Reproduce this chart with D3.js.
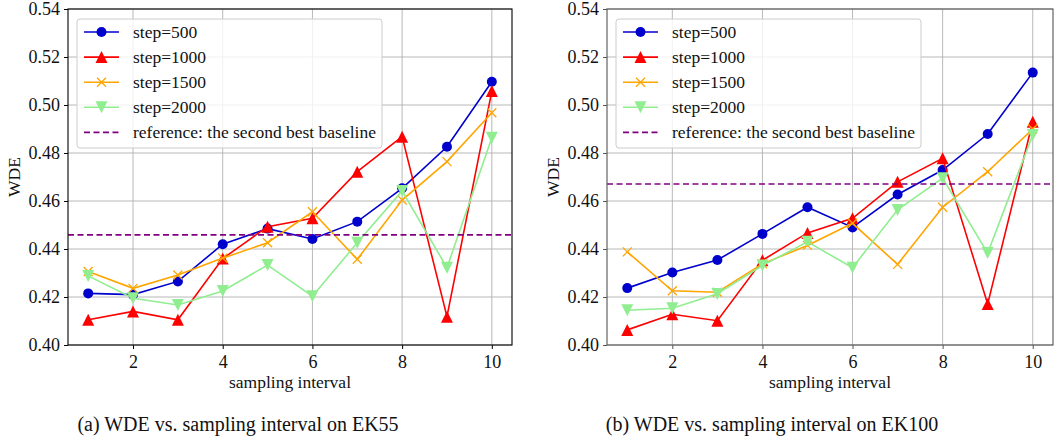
<!DOCTYPE html>
<html>
<head>
<meta charset="utf-8">
<script src="https://cdn.jsdelivr.net/npm/d3@7"></script>
<style>
  html, body { margin: 0; padding: 0; background: #fff; }
  svg { display: block; }
  svg text { font-family: 'Liberation Serif', 'Times New Roman', Times, 'DejaVu Serif', serif !important; }
</style>
</head>
<body>
<svg id="chart" width="1061" height="440"></svg>
<script>
// ---- data ----
const intervals = [1, 2, 3, 4, 5, 6, 7, 8, 9, 10];
const xTicks = [2, 4, 6, 8, 10];
const yTicks = [0.40, 0.42, 0.44, 0.46, 0.48, 0.50, 0.52, 0.54];
const seriesNames = ["step=500", "step=1000", "step=1500", "step=2000"];
const refLabel = "reference: the second best baseline";

const ek55_step500  = [0.4215, 0.421, 0.4265, 0.442, 0.4485, 0.4442, 0.4514, 0.4653, 0.4826, 0.5097];
const ek55_step1000 = [0.4105, 0.414, 0.4105, 0.436, 0.4493, 0.4528, 0.4722, 0.4868, 0.4118, 0.5058];
const ek55_step1500 = [0.4306, 0.4236, 0.4292, 0.4362, 0.4426, 0.4555, 0.4357, 0.4604, 0.4764, 0.4968];
const ek55_step2000 = [0.4288, 0.4195, 0.4167, 0.4225, 0.4333, 0.4203, 0.4426, 0.4642, 0.4322, 0.4864];
const ek55_ref = 0.4459;

const ek100_step500  = [0.4237, 0.4302, 0.4354, 0.4463, 0.4574, 0.4490, 0.4627, 0.4729, 0.4879, 0.5135];
const ek100_step1000 = [0.4063, 0.4128, 0.4101, 0.4353, 0.4467, 0.4528, 0.4680, 0.4778, 0.4171, 0.4930];
const ek100_step1500 = [0.4388, 0.4226, 0.4220, 0.4338, 0.4415, 0.4507, 0.4336, 0.4574, 0.4722, 0.4900];
const ek100_step2000 = [0.4145, 0.4153, 0.4213, 0.4331, 0.4430, 0.4322, 0.4563, 0.4695, 0.4383, 0.4875];
const ek100_ref = 0.4671;

const captions = ["(a) WDE vs. sampling interval on EK55", "(b) WDE vs. sampling interval on EK100"];
const xLabel = "sampling interval";
const yLabel = "WDE";

// ---- styles ----
const FONT = "'Liberation Serif', 'Times New Roman', Times, 'DejaVu Serif', serif";
const colors = ["#0000cd", "#ff0000", "#ffa500", "#90ee90"];
const markers = ["circle", "triUp", "x", "triDown"];
const refColor = "#800080";

const svg = d3.select("#chart");

function drawMarker(g, type, cx, cy, color) {
  if (type === "circle") {
    g.append("circle").attr("cx", cx).attr("cy", cy).attr("r", 5).attr("fill", color);
  } else if (type === "triUp") {
    const s = 6;
    g.append("path").attr("d", `M${cx},${cy - s} L${cx + s},${cy + s} L${cx - s},${cy + s} Z`).attr("fill", color);
  } else if (type === "triDown") {
    const s = 6;
    g.append("path").attr("d", `M${cx},${cy + s} L${cx + s},${cy - s} L${cx - s},${cy - s} Z`).attr("fill", color);
  } else if (type === "x") {
    const s = 4.5;
    g.append("path").attr("d", `M${cx - s},${cy - s} L${cx + s},${cy + s} M${cx - s},${cy + s} L${cx + s},${cy - s}`)
      .attr("stroke", color).attr("stroke-width", 1.3).attr("fill", "none");
  }
}

function panel(opts) {
  const { left, right, top, bottom, data, ref, caption, spineColor, captionX } = opts;
  const x = d3.scaleLinear().domain([0.55, 10.45]).range([left, right]);
  const y = d3.scaleLinear().domain([0.40, 0.54]).range([bottom, top]);
  const g = svg.append("g").attr("font-family", FONT);

  // grid
  g.append("g").selectAll("line.gx").data(xTicks).join("line")
    .attr("x1", d => x(d)).attr("x2", d => x(d)).attr("y1", top).attr("y2", bottom)
    .attr("stroke", "#b0b0b0").attr("stroke-width", 0.9);
  g.append("g").selectAll("line.gy").data(yTicks).join("line")
    .attr("x1", left).attr("x2", right).attr("y1", d => y(d)).attr("y2", d => y(d))
    .attr("stroke", "#b0b0b0").attr("stroke-width", 0.9);

  // series lines
  const line = d3.line().x((d, i) => x(intervals[i])).y(d => y(d));
  data.forEach((vals, si) => {
    const sg = g.append("g");
    sg.append("path").datum(vals).attr("d", line).attr("fill", "none")
      .attr("stroke", colors[si]).attr("stroke-width", 1.6);
    vals.forEach((v, i) => drawMarker(sg, markers[si], x(intervals[i]), y(v), colors[si]));
  });

  // reference line
  g.append("line").attr("x1", left).attr("x2", right).attr("y1", y(ref)).attr("y2", y(ref))
    .attr("stroke", refColor).attr("stroke-width", 1.6).attr("stroke-dasharray", "6,3.5");

  // axes
  const xAxis = d3.axisBottom(x).tickValues(xTicks).tickFormat(d3.format("d")).tickSize(4).tickPadding(4);
  const yAxis = d3.axisLeft(y).tickValues(yTicks).tickFormat(d3.format(".2f")).tickSize(4).tickPadding(4);
  const gx = g.append("g").attr("transform", `translate(0,${bottom})`).call(xAxis);
  const gy = g.append("g").attr("transform", `translate(${left},0)`).call(yAxis);
  [gx, gy].forEach(a => {
    a.attr("font-family", FONT).attr("font-size", 18);
    a.select(".domain").remove();
    a.selectAll("line").attr("stroke", spineColor).attr("stroke-width", 1);
    a.selectAll("text").attr("font-family", FONT).attr("font-size", 18).attr("fill", "#111");
  });
  gx.selectAll("text").attr("dy", "0.85em");

  // spines
  g.append("rect").attr("x", left).attr("y", top).attr("width", right - left).attr("height", bottom - top)
    .attr("fill", "none").attr("stroke", spineColor).attr("stroke-width", 1.1);

  // labels
  g.append("text").attr("x", (left + right) / 2).attr("y", bottom + 43).attr("text-anchor", "middle")
    .attr("font-family", FONT).attr("font-size", 17.5).attr("fill", "#111").text(xLabel);
  g.append("text").attr("transform", `translate(${left - 48},${(top + bottom) / 2}) rotate(-90)`)
    .attr("font-family", FONT).attr("text-anchor", "middle").attr("font-size", 17.5).attr("fill", "#111").text(yLabel);
  g.append("text").attr("x", captionX).attr("y", 431).attr("text-anchor", "middle")
    .attr("font-family", FONT).attr("font-size", 20).attr("fill", "#111").text(caption);

  // legend
  const lx = left + 9, ly = 19, lw = 305, lh = 129;
  const lg = g.append("g");
  lg.append("rect").attr("x", lx).attr("y", ly).attr("width", lw).attr("height", lh).attr("rx", 3)
    .attr("fill", "#fff").attr("fill-opacity", 0.8).attr("stroke", "#cccccc").attr("stroke-width", 1);
  const rows = seriesNames.concat([refLabel]);
  rows.forEach((name, i) => {
    const ry = ly + 13 + i * 25.1;
    if (i < 4) {
      lg.append("line").attr("x1", lx + 7).attr("x2", lx + 42).attr("y1", ry).attr("y2", ry)
        .attr("stroke", colors[i]).attr("stroke-width", 1.6);
      drawMarker(lg, markers[i], lx + 24.5, ry, colors[i]);
    } else {
      lg.append("line").attr("x1", lx + 7).attr("x2", lx + 42).attr("y1", ry).attr("y2", ry)
        .attr("stroke", refColor).attr("stroke-width", 1.6).attr("stroke-dasharray", "6,3.5");
    }
    lg.append("text").attr("x", lx + 56).attr("y", ry).attr("dy", "0.33em")
      .attr("font-family", FONT).attr("font-size", 17.5).attr("fill", "#111").text(name);
  });
}

panel({ left: 68, right: 512, top: 9, bottom: 345,
  data: [ek55_step500, ek55_step1000, ek55_step1500, ek55_step2000], ref: ek55_ref,
  caption: captions[0], spineColor: "#000", captionX: 238 });
panel({ left: 607, right: 1053, top: 9, bottom: 345,
  data: [ek100_step500, ek100_step1000, ek100_step1500, ek100_step2000], ref: ek100_ref,
  caption: captions[1], spineColor: "#555", captionX: 772 });
</script>
</body>
</html>
